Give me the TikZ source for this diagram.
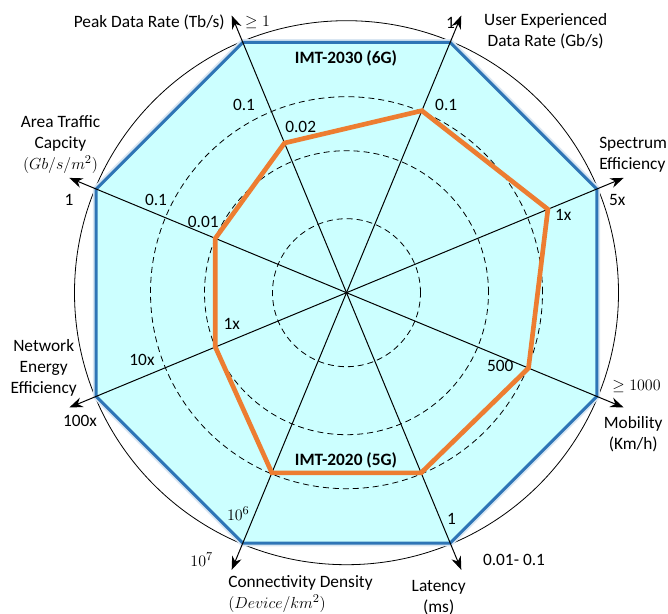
\documentclass[tikz,border=0pt]{standalone}
\usepackage{fontspec}
\setmainfont{Carlito}
\usetikzlibrary{arrows.meta}
\definecolor{fillcyan}{RGB}{204,255,255}
\definecolor{imtblue}{RGB}{46,117,182}
\definecolor{imtorange}{RGB}{237,125,49}

\begin{document}
\begin{tikzpicture}[x=0.75pt,y=0.75pt,
    font=\fontsize{13}{15.75}\selectfont,
    axis/.style={line width=0.75pt,-{Stealth[length=10pt,width=7.5pt]}},
    ring/.style={dash pattern=on 4.5pt off 3pt,line width=0.6pt},
    lbl/.style={inner sep=0pt,align=center}]
    \useasboundingbox (-346.5,-321.3) rectangle (321.5,292.7);
    \coordinate (O) at (0,0);

    % outer circle
    \draw[line width=0.6pt] (O) circle (272);

    % IMT-2030 region
    \draw[imtblue!18,line width=5pt,line join=round]
        (22.5:271) \foreach \a in {67.5,112.5,...,337.5}{ -- (\a:271)} -- cycle;
    \filldraw[fill=fillcyan,draw=imtblue,line width=2.25pt,line join=round]
        (22.5:271) \foreach \a in {67.5,112.5,...,337.5}{ -- (\a:271)} -- cycle;

    % dashed rings
    \foreach \r in {74,142,196}
        \draw[ring] (O) circle (\r);

    % axes
    \foreach \a/\n in {22.5/spec,67.5/user,112.5/peak,157.5/area,
                       202.5/energy,247.5/conn,292.5/lat,337.5/mob}{
        \coordinate (\n) at (\a:300);
        \draw[axis] (O) -- (\n);
    }

    % IMT-2020 region
    \draw[imtorange,line width=3.5pt,line join=miter]
        (22.5:218) -- (67.5:197) -- (112.5:162) -- (157.5:142)
        -- (202.5:142) -- (247.5:195) -- (292.5:195) -- (337.5:197) -- cycle;

    % titles
    \node[lbl] (t6g) at (-0.5,234.7) {\textbf{IMT-2030 (6G)}};
    \node[lbl] (t5g) at (-0.5,-167.3) {\textbf{IMT-2020 (5G)}};

    % axis names
    \node[lbl,anchor=east] (n-peak) at (-121.5,270.7) {Peak Data Rate (Tb/s)};
    \node[lbl] (n-user) at (199.2,261.9) {User Experienced\\Data Rate (Gb/s)};
    \node[lbl,anchor=west,align=left] (n-spec) at (252.5,138.2) {Spectrum\\Efficiency};
    \node[lbl] (n-area) at (-286,148.3) {Area Traffic\\Capcity\\$(Gb/s/m^2)$};
    \node[lbl] (n-energy) at (-302.8,-75.3) {Network\\Energy\\Efficiency};
    \node[lbl,anchor=west,align=left] (n-conn) at (-118.5,-301.3) {Connectivity Density\\$(Device/km^2)$};
    \node[lbl] (n-lat) at (92.2,-304.6) {Latency\\(ms)};
    \node[lbl] (n-mob) at (286.7,-141.3) {Mobility\\(Km/h)};

    % values
    \node[lbl] (v-peak6) at (-89,270.2) {$\geq 1$};
    \node[lbl] (v-peak5) at (-45.8,165.4) {0.02};
    \node[lbl] (v-peak) at (-102.5,187.7) {0.1};
    \node[lbl] (v-user6) at (104,269.7) {1};
    \node[lbl] (v-user5) at (99.7,187.7) {0.1};
    \node[lbl] (v-spec6) at (270.8,92.7) {5x};
    \node[lbl] (v-spec5) at (216.7,77.7) {1x};
    \node[lbl] (v-area6) at (-277.5,92.7) {1};
    \node[lbl] (v-area) at (-190.5,92.7) {0.1};
    \node[lbl] (v-area5) at (-143.2,71) {0.01};
    \node[lbl] (v-energy5) at (-114.8,-31) {1x};
    \node[lbl] (v-energy) at (-204.5,-66.8) {10x};
    \node[lbl] (v-energy6) at (-266.5,-128.5) {100x};
    \node[lbl] (v-conn5) at (-108.2,-220.8) {$10^6$};
    \node[lbl] (v-conn6) at (-144.8,-266.8) {$10^7$};
    \node[lbl] (v-lat5) at (105,-226) {1};
    \node[lbl] (v-lat6) at (167.5,-266.8) {0.01- 0.1};
    \node[lbl] (v-mob5) at (153.7,-73.5) {500};
    \node[lbl] (v-mob6) at (290,-93.5) {$\geq 1000$};
\end{tikzpicture}
\end{document}
